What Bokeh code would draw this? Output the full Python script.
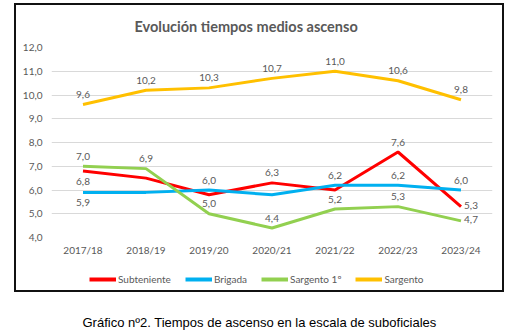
from bokeh.plotting import figure
from bokeh.layouts import column
from bokeh.models import (FactorRange, Range1d, ColumnDataSource, Legend, LegendItem,
                          CustomJSTickFormatter, FixedTicker, Label, InlineStyleSheet)
from bokeh.core.properties import value
from bokeh.embed import file_html
from bokeh.resources import INLINE

# ---- data ----
years = ["2017/18", "2018/19", "2019/20", "2020/21", "2021/22", "2022/23", "2023/24"]
subteniente = [6.8, 6.5, 5.8, 6.3, 6.0, 7.6, 5.3]
brigada = [5.9, 5.9, 6.0, 5.8, 6.2, 6.2, 6.0]
sargento_1 = [7.0, 6.9, 5.0, 4.4, 5.2, 5.3, 4.7]
sargento = [9.6, 10.2, 10.3, 10.7, 11.0, 10.6, 9.8]
y_ticks = [4, 5, 6, 7, 8, 9, 10, 11, 12]
series_names = ["Subteniente", "Brigada", "Sargento 1º", "Sargento"]
title_text = "Evolución tiempos medios ascenso"
caption_text = "Gráfico nº2. Tiempos de ascenso en la escala de suboficiales"

# label placement per point: a = above, b = below, r = right, "" = none
sub_place = ["b", "", "", "a", "", "a", "r"]
bri_place = ["b", "", "a", "", "a", "a", "a"]
sg1_place = ["a", "a", "a", "a", "a", "a", "r"]
sgt_place = ["a", "a", "a", "a", "a", "a", "a"]

colors = ["#ff0000", "#00b0f0", "#92d050", "#ffc000"]
TXT = "#595959"
FONT = "Lato"

all_series = [subteniente, brigada, sargento_1, sargento]
all_place = [sub_place, bri_place, sg1_place, sgt_place]
sources = [ColumnDataSource(dict(x=years, y=vals)) for vals in all_series]

G = "linear-gradient(#111, #111)"


def box_styles(positions, sizes):
    d = {
        "background-image": ", ".join([G] * len(positions)),
        "background-position": ", ".join(positions),
        "background-size": ", ".join(sizes),
        "background-repeat": "no-repeat",
    }
    css = ":host { " + "; ".join(f"{k}: {v}" for k, v in d.items()) + "; }"
    return d, css


# ---------------- chart ----------------
p = figure(x_range=FactorRange(*years), y_range=Range1d(4, 12),
           width=515, height=261,
           min_border_left=51, min_border_right=23, min_border_top=47, min_border_bottom=24,
           output_backend="svg", toolbar_location=None)
p.outline_line_color = None
p.background_fill_alpha = 0
p.border_fill_alpha = 0
p.xgrid.grid_line_color = None
p.ygrid.grid_line_color = "#d9d9d9"
p.ygrid.grid_line_width = 1

p.title.text = title_text
p.title.align = "left"
p.title.offset = 83
p.title.text_font = FONT
p.title.text_font_style = "bold"
p.title.text_font_size = "14.5px"
p.title.text_color = TXT
p.title.standoff = 26

p.yaxis.ticker = FixedTicker(ticks=y_ticks)
p.yaxis.formatter = CustomJSTickFormatter(code="return tick.toFixed(1).replace('.', ',');")
for ax in (p.xaxis[0], p.yaxis[0]):
    ax.axis_line_color = None
    ax.major_tick_line_color = None
    ax.minor_tick_line_color = None
    ax.major_tick_out = 0
    ax.major_tick_in = 0
    ax.major_label_text_color = TXT
    ax.major_label_text_font = FONT
    ax.major_label_text_font_size = "10px"
p.yaxis.major_label_standoff = 9
p.xaxis.major_label_standoff = 6
p.x_range.range_padding = 0

for src, col in zip(sources, colors):
    p.line("x", "y", source=src, line_color=col, line_width=3)

for vals, place in zip(all_series, all_place):
    xs, ys, ts, xo, yo = [], [], [], [], []
    for yr, v, pl in zip(years, vals, place):
        if not pl:
            continue
        xs.append(yr)
        ys.append(v)
        ts.append(f"{v:.1f}".replace(".", ","))
        if pl == "a":
            xo.append(0); yo.append(-10)
        elif pl == "b":
            xo.append(0); yo.append(10)
        else:
            xo.append(10); yo.append(-1)
    lsrc = ColumnDataSource(dict(x=xs, y=ys, t=ts, xo=xo, yo=yo))
    p.text("x", "y", text="t", source=lsrc, x_offset="xo", y_offset="yo",
           text_align="center", text_baseline="middle",
           text_font=value(FONT), text_font_size="10px", text_color=TXT)

p_st, p_css = box_styles(["14px 3px", "502px 3px", "14px 3px"],
                         ["2px 258px", "2px 258px", "490px 2px"])
p.styles = p_st
p.stylesheets = [InlineStyleSheet(css=p_css)]

# ---------------- legend + caption strip ----------------
q = figure(x_range=FactorRange(*years), y_range=Range1d(4, 12),
           width=515, height=74,
           min_border_left=0, min_border_right=0, min_border_top=0, min_border_bottom=0,
           x_axis_location=None, y_axis_location=None,
           output_backend="svg", toolbar_location=None)
q.outline_line_color = None
q.grid.visible = False
q.background_fill_alpha = 0
q.border_fill_alpha = 0

leg_renderers = []
for src, col in zip(sources, colors):
    r = q.line("x", "y", source=src, line_color=col, line_width=4)
    r.visible = False
    leg_renderers.append(r)

legend = Legend(items=[LegendItem(label=n, renderers=[r]) for n, r in zip(series_names, leg_renderers)],
                orientation="horizontal", location=(38, 48), click_policy="none",
                margin=0, padding=4, spacing=14, glyph_width=27, glyph_height=16,
                label_height=16, label_standoff=2, border_line_color=None,
                background_fill_alpha=0, inactive_fill_alpha=0,
                label_text_font=FONT, label_text_font_size="10px", label_text_color=TXT)
q.add_layout(legend, "center")

q.add_layout(Label(x=208, y=13, x_units="screen", y_units="screen", text=caption_text,
                   text_align="center", text_baseline="middle",
                   text_font="Liberation Sans", text_font_size="13px", text_color="black"))

q_st, q_css = box_styles(["14px 0px", "502px 0px", "14px 29px"],
                         ["2px 31px", "2px 31px", "490px 2px"])
q.styles = q_st
q.stylesheets = [InlineStyleSheet(css=q_css)]

layout = column(p, q, spacing=0)

open("out.html", "w").write(file_html(layout, INLINE))
